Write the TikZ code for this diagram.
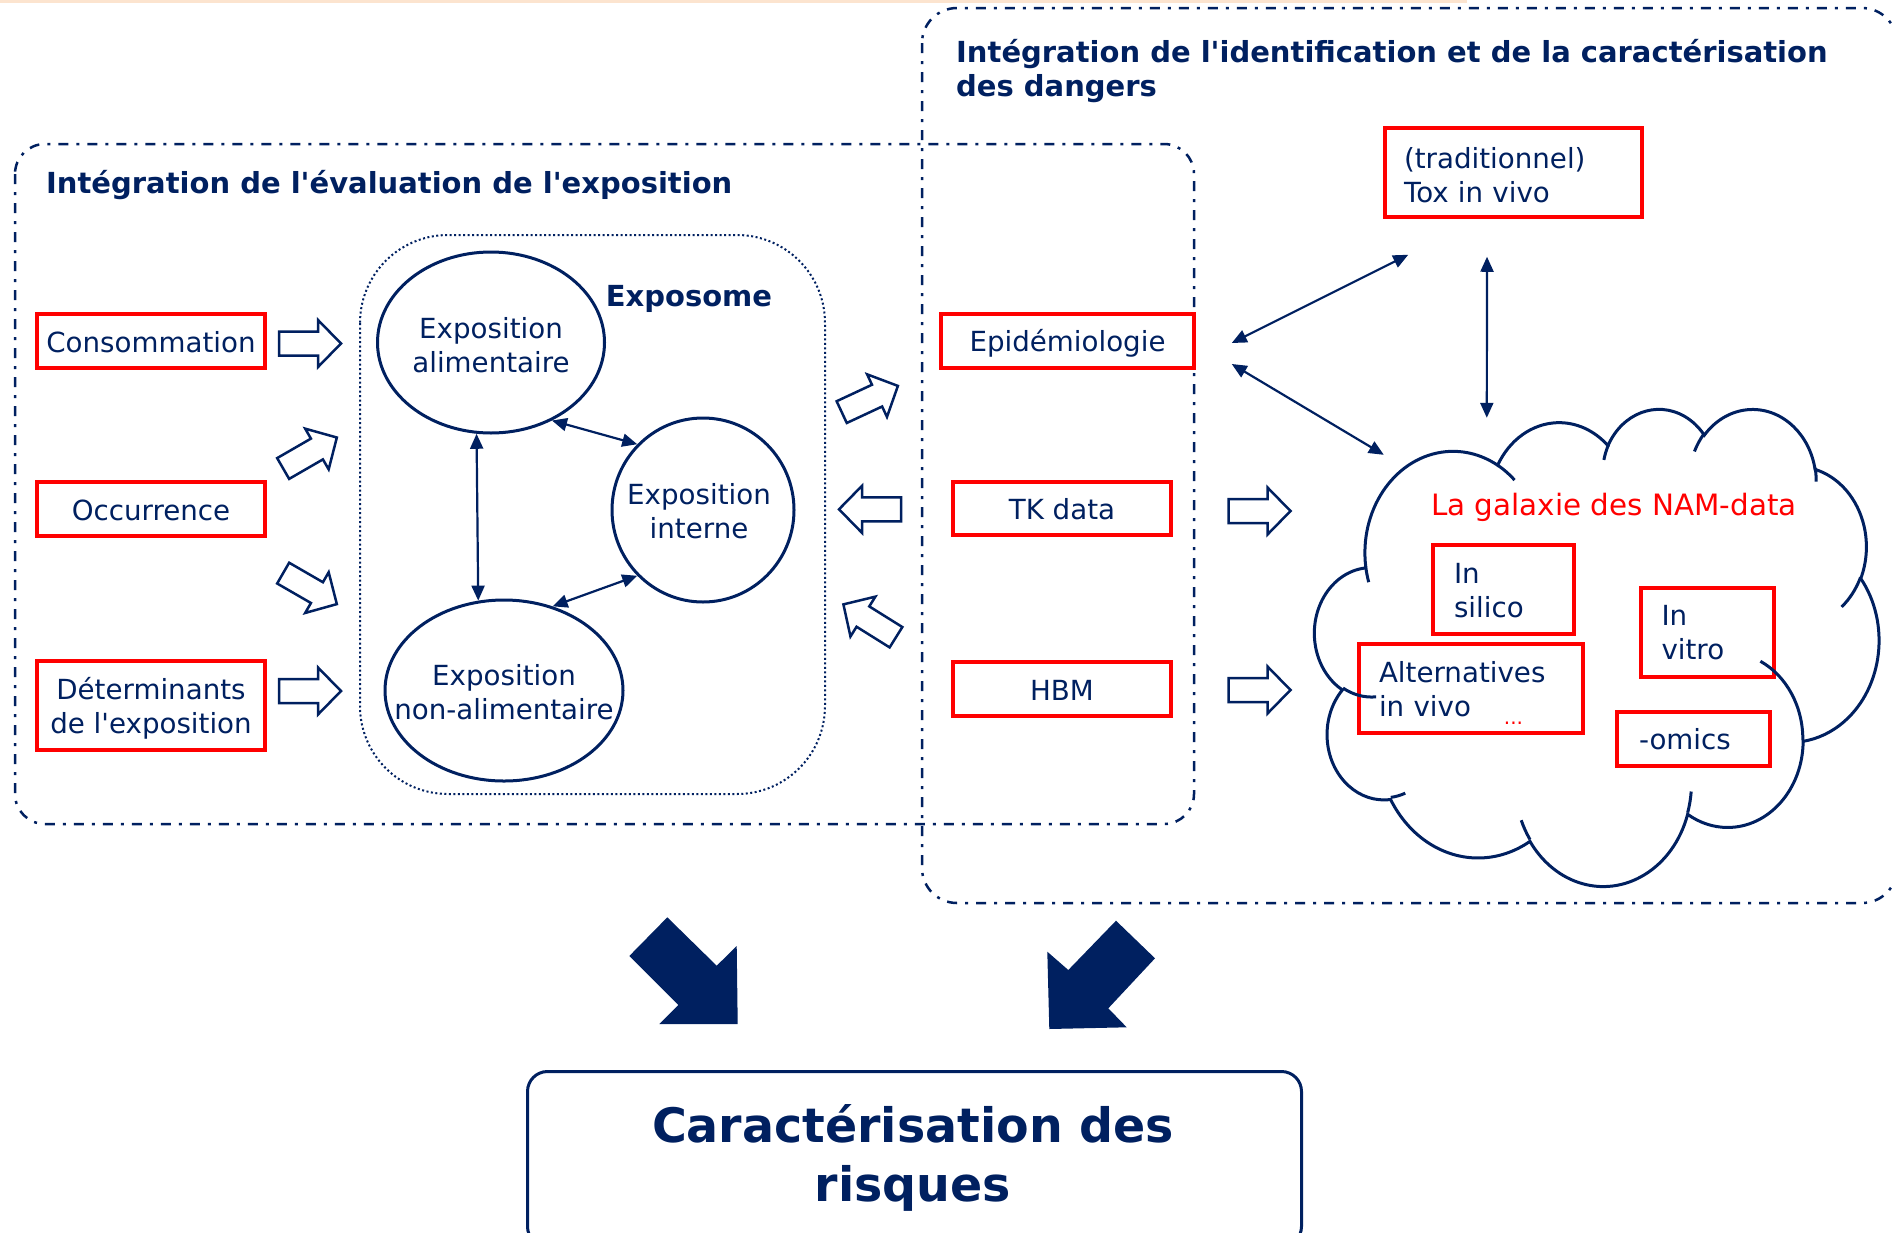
\documentclass[tikz,border=0pt]{standalone}
\usepackage{fontspec}
\setmainfont{DejaVu Sans}[Ligatures=TeXOff]
\usetikzlibrary{arrows.meta,shapes.geometric,calc}
\definecolor{navy}{HTML}{002060}
\definecolor{peach}{HTML}{FCE4CF}
\newcommand\fnorm{\fontsize{27.7}{34}\selectfont}
\newcommand\fttl{\fontsize{29}{34}\selectfont\bfseries}
\newcommand\hstr[1]{\rule{0pt}{#1pt}}
\newcommand\ooconv[4]{%
  \pgfmathsetmacro\ooA{atan2((#1)*sin(#3),(#2)*cos(#3))}%
  \pgfmathsetmacro\ooB{atan2((#1)*sin((#3)+(#4)),(#2)*cos((#3)+(#4)))}%
  \pgfmathsetmacro\ooB{(\ooA)+mod((\ooB)-(\ooA)+720,360)}%
  \global\let\oos\ooA\global\let\ooe\ooB}
\newcommand\ooarc[4]{\pgfextra{\ooconv{#1}{#2}{#3}{#4}} arc[x radius=#1,y radius=#2,start angle=\oos,end angle=\ooe]}
\tikzset{
  txt/.style={text=navy, font=\fnorm, align=center, inner sep=0},
  ttl/.style={text=navy, font=\fttl, inner sep=0},
  redbox/.style={draw=red, line width=3.5pt, inner sep=0, text=navy, font=\fnorm, align=center},
  lbox/.style n args={3}{redbox, minimum width=#1pt, text width=#2pt, inner xsep=#3pt, align=left},
  ell/.style={draw=navy, line width=3pt, ellipse, inner sep=0},
  dashdot/.style={draw=navy, line width=2.5pt, dash pattern=on 10pt off 8pt on 3pt off 8pt},
  dbl/.style={draw=navy, line width=2.2pt, arrows={Triangle[length=15pt,width=13pt]-Triangle[length=15pt,width=13pt]}},
  cloudline/.style={draw=navy, line width=3pt},
  harrow/.pic={\draw[navy, line width=2.5pt, fill=white, line join=miter] (-31,-12) -- (8,-12) -- (8,-23.5) -- (31,0) -- (8,23.5) -- (8,12) -- (-31,12) -- cycle;}
}
\begin{document}
\begin{tikzpicture}[x=1pt,y=-1pt]
\useasboundingbox (0,0) rectangle (1893,1232);
\fill[peach] (0,0) rectangle (1467,3);
% frames
\draw[dashdot, rounded corners=30pt] (15,144) rectangle (1194,824);
\draw[dashdot, rounded corners=35pt] (922,8) rectangle (1897,903);
\draw[navy, line width=2pt, dash pattern=on 2pt off 2.5pt, rounded corners=88pt] (360,235) rectangle (825,794);
% titles
\node[ttl, anchor=west] (t1) at (46,185.5) {Intégration de l'évaluation de l'exposition};
\node[ttl, anchor=west, align=left] (t2) at (956,71) {Intégration de l'identification et de la caractérisation\\des dangers};
\node[ttl] (expo) at (689,299) {Exposome};
% ellipses
\node[ell, minimum width=227pt, minimum height=181pt] (ea) at (491,342.5) {};
\node[ell, minimum width=182pt, minimum height=184pt] (ei) at (703,510) {};
\node[ell, minimum width=238pt, minimum height=181pt] (en) at (504,690.5) {};
\node[txt] (eat) at (491,345.5) {Exposition\\alimentaire};
\node[txt] (eit) at (699,511) {Exposition\\interne};
\node[txt] (ent) at (504,692) {Exposition\\non-alimentaire};
\draw[dbl] (ea.308) -- (ei.135);
\draw[dbl] (ei.225) -- (en.60);
\draw[dbl] (ea.261) -- (en.106);
% red boxes
\node[redbox, minimum width=228pt, minimum height=54pt, text height=23pt] (cons) at (151,341) {Consommation};
\node[redbox, minimum width=228pt, minimum height=54pt, text height=23pt] (occ) at (151,509) {Occurrence};
\node[redbox, minimum width=228pt, minimum height=89pt] (det) at (151,705.5) {\hstr{28}Déterminants\\de l'exposition};
\node[redbox, minimum width=253pt, minimum height=54pt, text height=27pt] (epi) at (1067.5,341) {Epidémiologie};
\node[redbox, minimum width=218pt, minimum height=53pt, text height=23pt] (tk) at (1062,508.5) {TK data};
\node[redbox, minimum width=218pt, minimum height=54pt, text height=23pt] (hbm) at (1062,689) {HBM};
\node[lbox={257}{219}{19}, minimum height=89pt] (tox) at (1513.5,172.5) {\hstr{26}(traditionnel)\\Tox in vivo};
\node[lbox={141}{99}{21}, minimum height=89pt] (sil) at (1503.5,589.5) {\hstr{23}In\\silico};
\node[lbox={224}{184}{20}, minimum height=89pt] (alt) at (1471,688.5) {\hstr{29}Alternatives\\in vivo\hspace{33pt}\raisebox{-8pt}{\textcolor{red}{\fontsize{20}{20}\selectfont...}}};
\node[lbox={133}{92}{20.5}, minimum height=89pt] (vit) at (1707.5,632.5) {In\\vitro};
\node[lbox={153}{109}{22}, minimum height=54pt] (omi) at (1693.5,739) {-omics};
\node[txt, text=red, font=\fontsize{29.4}{34}\selectfont, anchor=west] (nam) at (1431,507) {La galaxie des NAM-data};
% cloud
\node[minimum width=564pt, minimum height=477pt, inner sep=0] (cloud) at (1597,646.5) {};
\begin{scope}[shift={(cloud.north west)}, x=1.3056pt, y=-1.1042pt]
\draw[cloudline] (39.00,143.70)
  \ooarc{67.53}{91.90}{-190.4875}{123.7805}
  \ooarc{53.33}{72.67}{-144.1024}{89.9452}
  \ooarc{43.65}{59.45}{-145.8079}{99.7230}
  \ooarc{48.57}{65.95}{-130.9861}{117.2417}
  \ooarc{53.33}{72.73}{-78.7089}{109.0269}
  \ooarc{67.75}{92.20}{-46.2673}{130.2690}
  \ooarc{57.85}{78.67}{0.6250}{114.0333}
  \ooarc{67.52}{92.15}{22.4516}{115.1726}
  \ooarc{77.20}{105.43}{66.2426}{75.7110}
  \ooarc{43.60}{59.18}{-274.9421}{146.7356}
  \ooarc{43.45}{59.45}{-246.8285}{152.5189} -- cycle;
\draw[cloudline]
  (46.93,261.77) \ooarc{43.45}{59.45}{86.7420}{26.4295}
  (69.28,348.99) \ooarc{43.60}{59.18}{73.6105}{11.4475}
  (164.78,390.90) \ooarc{67.52}{92.15}{137.6242}{14.0811}
  (288.27,347.51) \ooarc{67.52}{92.15}{6.4533}{15.9984}
  (341.29,229.54) \ooarc{57.85}{78.67}{-70.2924}{70.9174}
  (417.98,153.54) \ooarc{53.33}{72.73}{30.3180}{27.7515}
  (383.24,54.26) \ooarc{48.57}{65.95}{-13.7443}{14.8589}
  (290.78,39.52) \ooarc{48.57}{65.95}{-149.1815}{18.1954}
  (221.41,47.20) \ooarc{43.65}{59.45}{-163.4943}{17.6864}
  (140.00,51.92) \ooarc{67.53}{91.90}{-66.7070}{12.3194}
  (41.27,157.89) \ooarc{67.53}{91.90}{157.6544}{11.8582};
\end{scope}
% connectors right
\draw[dbl] ($(epi.east)+(36,2)$) -- ($(tox.south west)+(25,36)$);
\draw[dbl] ($(epi.east)+(36,23)$) -- ($(cloud.north west)+(69,47)$);
\draw[dbl] ($(tox.south)+(-26.5,38)$) -- ($(cloud.north west)+(172,10)$);
% hollow arrows
\pic at (310,343.5) {harrow};
\pic[rotate=30] at (310,453) {harrow};
\pic[rotate=-30] at (310,588.6) {harrow};
\pic at (310,691) {harrow};
\pic[rotate=25] at (869.8,399) {harrow};
\pic[rotate=180] at (870,509.3) {harrow};
\pic[rotate=148] at (869.7,620.8) {harrow};
\pic at (1259.5,511) {harrow};
\pic at (1259.5,690) {harrow};
% solid arrows
\fill[navy] (667.3,917.3) -- (629.3,956) -- (678.3,1005) -- (659.3,1024) -- (737.7,1024) -- (736.7,946) -- (716.7,965.7) -- cycle;
\fill[navy] (1116,920.7) -- (1155,958.3) -- (1108.3,1008.3) -- (1126.7,1027.3) -- (1049.3,1029) -- (1047.3,951.7) -- (1068.3,970) -- cycle;
% risk box
\node[draw=navy, line width=3pt, rounded corners=20pt, minimum width=774pt, minimum height=175pt, anchor=north west, inner sep=0] (riskbox) at (526,1070) {};
\node[ttl, font=\fontsize{47.5}{59}\selectfont\bfseries, align=center] (risk) at (913,1158) {Caractérisation des\\risques};
\end{tikzpicture}
\end{document}
